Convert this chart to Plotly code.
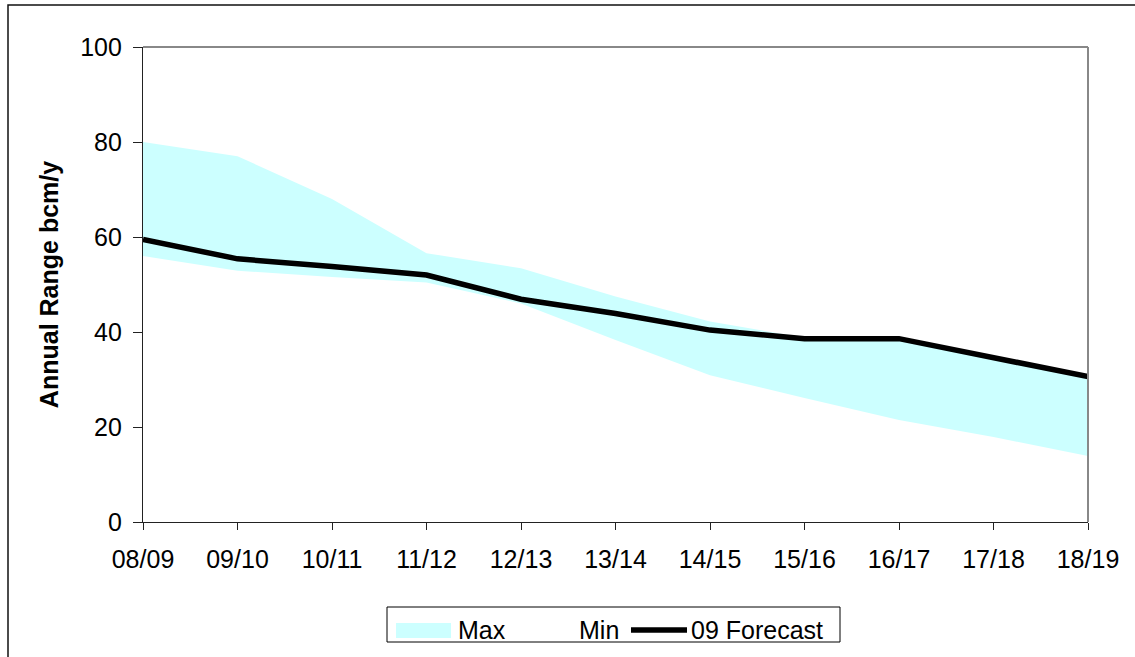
import plotly.graph_objects as go

# Annual gas range, bcm/y
years = ["08/09", "09/10", "10/11", "11/12", "12/13", "13/14",
         "14/15", "15/16", "16/17", "17/18", "18/19"]
max_range = [80, 77, 68, 56.6, 53.4, 47.5, 42.2, 38.8, 38.4, 34.3, 30.2]
min_range = [56, 52.9, 51.6, 50.4, 46, 38.3, 30.9, 26.1, 21.5, 17.9, 13.9]
forecast_09 = [59.5, 55.4, 53.8, 52, 46.9, 43.9, 40.4, 38.6, 38.6, 34.6, 30.6]
y_ticks = [0, 20, 40, 60, 80, 100]
series_names = ["Max", "Min", "09 Forecast"]

W, H = 1135, 657
L, R, T, B = 143, 47, 47, 135
pw, ph = W - L - R, H - T - B

FONT = "Liberation Sans, Arial, sans-serif"
CYAN = "#CCFFFF"

fig = go.Figure()
fig.add_trace(go.Scatter(
    x=years, y=max_range, name=series_names[0], mode="lines",
    line=dict(width=0, color=CYAN), fill="tozeroy", fillcolor=CYAN,
))
fig.add_trace(go.Scatter(
    x=years, y=min_range, name=series_names[1], mode="lines",
    line=dict(width=0, color="white"), fill="tozeroy", fillcolor="white",
))
fig.add_trace(go.Scatter(
    x=years, y=forecast_09, name=series_names[2], mode="lines",
    line=dict(width=5.5, color="black"),
))


def px_x(v):
    return (v - L) / pw


def px_y(v):
    return (H - B - v) / ph


shapes = [
    # plot-area frame (top and right edges)
    dict(type="line", xref="paper", yref="paper", x0=0, x1=1, y0=1, y1=1,
         line=dict(color="#888888", width=2)),
    dict(type="line", xref="paper", yref="paper", x0=1, x1=1, y0=0, y1=1,
         line=dict(color="#888888", width=2)),
    # chart-area border
    dict(type="rect", xref="paper", yref="paper",
         x0=px_x(8), x1=px_x(1145), y0=px_y(670), y1=px_y(5),
         line=dict(color="#111111", width=1.5)),
    # legend box
    dict(type="rect", xref="paper", yref="paper",
         x0=px_x(387), x1=px_x(840), y0=px_y(642), y1=px_y(607),
         line=dict(color="black", width=1), fillcolor="white"),
    # legend key: Max (cyan patch)
    dict(type="rect", xref="paper", yref="paper",
         x0=px_x(396), x1=px_x(451), y0=px_y(638), y1=px_y(623),
         line=dict(width=0), fillcolor=CYAN),
    # legend key: 09 Forecast (thick line)
    dict(type="line", xref="paper", yref="paper",
         x0=px_x(631), x1=px_x(687), y0=px_y(630), y1=px_y(630),
         line=dict(color="black", width=5.5)),
]

annotations = [
    dict(text=series_names[0], x=px_x(456), y=px_y(630)),
    dict(text=series_names[1], x=px_x(577), y=px_y(630)),
    dict(text=series_names[2], x=px_x(689), y=px_y(630)),
]
for a in annotations:
    a.update(xref="paper", yref="paper", xanchor="left", yanchor="middle",
             showarrow=False, font=dict(size=25, color="black"))

fig.update_layout(
    width=W, height=H,
    margin=dict(l=L, r=R, t=T, b=B, autoexpand=False),
    paper_bgcolor="white", plot_bgcolor="white",
    font=dict(family=FONT, size=25, color="black"),
    showlegend=False,
    shapes=shapes,
    annotations=annotations,
    xaxis=dict(
        type="category", range=[0, len(years) - 1],
        showline=True, linecolor="#222222", linewidth=1.3,
        ticks="outside", ticklen=7, tickcolor="#222222", tickwidth=1.3,
        showgrid=False, zeroline=False, tickfont=dict(size=25),
        ticklabelstandoff=8,
    ),
    yaxis=dict(
        range=[0, 100], tickvals=y_ticks,
        showline=True, linecolor="#222222", linewidth=1.3,
        ticks="outside", ticklen=9, tickcolor="#222222", tickwidth=1.3,
        showgrid=False, zeroline=False, tickfont=dict(size=25),
        ticklabelstandoff=6,
        title=dict(text="<b>Annual Range bcm/y</b>", font=dict(size=25),
                   standoff=14),
    ),
)

fig.write_html("out.html")
